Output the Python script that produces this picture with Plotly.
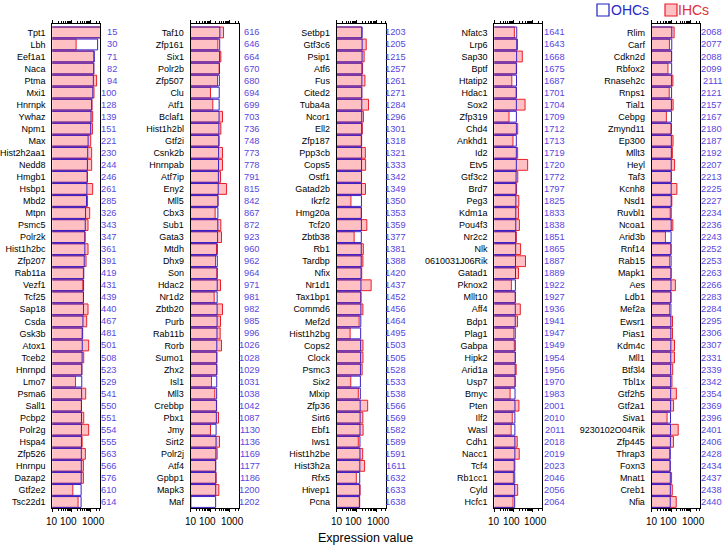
import math
import plotly.graph_objects as go

genes1 = ["Tpt1","Lbh","Eef1a1","Naca","Ptma","Mxi1","Hnrnpk","Ywhaz","Npm1","Max","Hist2h2aa1","Nedd8","Hmgb1","Hsbp1","Mbd2","Mtpn","Psmc5","Polr2k","Hist1h2bc","Zfp207","Rab11a","Vezf1","Tcf25","Sap18","Csda","Gsk3b","Atox1","Tceb2","Hnrnpd","Lmo7","Psma6","Sall1","Pcbp2","Polr2g","Hspa4","Zfp526","Hnrnpu","Dazap2","Gtf2e2","Tsc22d1"]
ranks1 = [15,30,71,82,94,100,128,139,151,221,230,244,246,261,285,326,343,347,361,391,419,431,439,440,467,481,501,508,523,529,541,550,551,554,555,563,566,576,610,614]
ohc1 = [3400,2320,1560,1480,1390,1300,1135,1050,1010,740,705,680,675,640,610,545,525,515,500,465,440,430,425,424,398,383,366,360,350,346,340,335,334,333,332,328,326,322,320,318]
ihc1 = [3400,175,1450,1440,2060,1500,1180,1280,1240,1010,1135,1135,660,1280,690,895,733,490,733,578,420,390,420,733,625,360,795,437,345,162,555,330,437,795,360,533,420,420,118,222]

genes2 = ["Taf10","Zfp161","Six1","Polr2b","Zfp507","Clu","Atf1","Bclaf1","Hist1h2bl","Gtf2i","Csnk2b","Hnrnpab","Atf7ip","Eny2","Mll5","Cbx3","Sub1","Gata3","Mtdh","Dhx9","Son","Hdac2","Nr1d2","Zbtb20","Purb","Rab11b","Rorb","Sumo1","Zhx2","Isl1","Mll3","Crebbp","Pbx1","Jmy","Sirt2","Polr2j","Atf4","Gpbp1","Mapk3","Maf"]
ranks2 = [616,646,664,670,680,694,699,703,736,748,773,778,791,815,842,867,872,923,960,962,964,971,981,982,985,996,1026,1028,1029,1031,1038,1042,1087,1130,1136,1169,1177,1186,1200,1202]
ohc2 = [318,312,308,305,300,296,293,290,283,280,274,272,268,262,257,252,250,243,236,235,234,233,231,230,229,227,222,221,221,220,218,217,210,204,203,199,197,196,194,193]
ihc2 = [493,251,358,294,241,105,138,437,358,290,437,437,344,705,251,182,358,388,214,190,222,344,162,437,344,331,388,222,222,118,175,212,271,105,306,231,190,205,282,10.3]

genes3 = ["Setbp1","Gtf3c6","Psip1","Atf6","Fus","Cited2","Tuba4a","Ncor1","Ell2","Zfp187","Ppp3cb","Cops5","Ostf1","Gatad2b","Ikzf2","Hmg20a","Tcf20","Zbtb38","Rb1","Tardbp","Nfix","Nr1d1","Tax1bp1","Commd6","Mef2d","Hist1h2bg","Cops2","Clock","Psmc3","Six2","Mlxip","Zfp36","Sirt6","Ebf1","Iws1","Hist1h2be","Hist3h2a","Rfx5","Hivep1","Pcna"]
ranks3 = [1203,1205,1215,1257,1261,1271,1284,1296,1301,1318,1321,1333,1342,1349,1350,1353,1359,1377,1381,1388,1420,1437,1452,1456,1464,1495,1503,1505,1528,1533,1538,1566,1569,1582,1589,1591,1611,1632,1633,1638]
ohc3 = [197,196,195,191,190,189,188,187,186,185,184,183,182,181,181,180,180,178,177,176,173,171,170,169,168,165,164,164,161,160,159,156,155,153,152,152,150,148,148,147]
ihc3 = [182,316,248,206,272,187,415,228,200,178,285,295,183,291,53,178,340,77,225,215,187,563,168,215,138,48,216,216,196,52,125,375,213,219,125,209,262,99,154,141]

genes4 = ["Nfatc3","Lrp6","Sap30","Bptf","Htatip2","Hdac1","Sox2","Zfp319","Chd4","Ankhd1","Id2","Etv5","Gtf3c2","Brd7","Peg3","Kdm1a","Pou4f3","Nr2c2","Nlk","0610031J06Rik","Gatad1","Pknox2","Mllt10","Aff4","Bdp1","Plag1","Gabpa","Hipk2","Arid1a","Usp7","Bmyc","Pten","Ilf2","Wasl","Cdh1","Nacc1","Tcf4","Rb1cc1","Cyld","Hcfc1"]
ranks4 = [1641,1643,1668,1675,1687,1701,1704,1709,1712,1713,1719,1720,1772,1797,1825,1833,1838,1851,1865,1887,1889,1922,1927,1936,1941,1947,1949,1954,1956,1970,1983,2001,2010,2011,2018,2019,2023,2046,2056,2064]
ohc4 = [146,146,144,143,142,141,140,140,140,139,139,139,135,133,131,130,130,129,128,126,126,124,123,123,122,122,122,121,121,120,119,118,117,117,117,117,116,115,114,114]
ihc4 = [110,160,283,138,81,136,394,58,164,93,163,537,165,143,187,179,201,139,232,415,180,77,123,223,161,104,109,126,136,120,66,190,85,75,154,196,107,98,163,94]

genes5 = ["Rlim","Carf","Cdkn2d","Rbfox2","Rnaseh2c","Rnps1","Tial1","Cebpg","Zmynd11","Ep300","Mllt3","Heyl","Taf3","Kcnh8","Nsd1","Ruvbl1","Ncoa1","Arid3b","Rnf14","Rab15","Mapk1","Aes","Ldb1","Mef2a","Ewsr1","Pias1","Kdm4c","Mll1","Btf3l4","Tbl1x","Gtf2h5","Gtf2a1","Siva1","9230102O04Rik","Zfp445","Thrap3","Foxn3","Mnat1","Creb1","Nfia"]
ranks5 = [2068,2077,2088,2099,2111,2121,2157,2167,2180,2187,2192,2207,2213,2225,2227,2234,2236,2243,2252,2253,2263,2266,2283,2284,2295,2306,2307,2331,2339,2342,2354,2369,2396,2401,2406,2428,2434,2437,2438,2440]
ohc5 = [108,108,107,107,106,106,104,104,103,103,103,102,102,101,101,101,101,100,100,100,99,99,98,98,97,97,97,96,95,95,95,94,93,93,92,91,91,91,91,90]
ihc5 = [143,82,105,69,124,80,127,57,99,126,116,152,102,199,109,90,123,51,97,85,100,166,98,84,118,118,150,149,121,111,187,134,62,232,132,84,87,106,115,184]

tick_vals = [10, 100, 1000]
tick_text = ["10", "100", "1000"]
legend_names = ["OHCs", "IHCs"]
x_title = "Expression value"

W, H = 724, 548
FONT = "Liberation Sans, Arial, sans-serif"
BLUE = "#3A22C8"
RANKC = "#5A46E0"
RED = "#E8202A"
PINK = "#FFC0C4"

panels = [
    (genes1, ranks1, ohc1, ihc1),
    (genes2, ranks2, ohc2, ihc2),
    (genes3, ranks3, ohc3, ihc3),
    (genes4, ranks4, ohc4, ihc4),
    (genes5, ranks5, ohc5, ihc5),
]
xpix = [(52.3, 100), (190.7, 239), (336.7, 385.7), (494.3, 542.3), (651.7, 700)]
rank_right = [119, 261.5, 407.7, 566.7, 723.5]
label_shift = [0, -2.5, 2.5]
ytop, ybot = 24, 508

fig = go.Figure()
layout = dict(
    width=W, height=H, margin=dict(l=0, r=0, t=0, b=0),
    template="none", paper_bgcolor="white", plot_bgcolor="white",
    barmode="overlay", showlegend=False,
    font=dict(family=FONT, color="black", size=9),
)
annotations = []
for i, (g, rk, o, ih) in enumerate(panels):
    n = "" if i == 0 else str(i + 1)
    xa, ya = "x" + n, "y" + n
    fig.add_trace(go.Bar(
        x=ih, y=g, orientation="h", xaxis=xa, yaxis=ya, width=0.9,
        marker=dict(color=PINK, line=dict(color=RED, width=1)), name=legend_names[1]))
    fig.add_trace(go.Bar(
        x=o, y=g, orientation="h", xaxis=xa, yaxis=ya, width=0.9,
        marker=dict(color="rgba(0,0,0,0)", line=dict(color=BLUE, width=1)), name=legend_names[0]))
    l, r = xpix[i]
    layout["xaxis" + n] = dict(
        type="log", range=[1, 3.49], domain=[l / W, r / W], anchor=ya,
        showline=True, linecolor="black", linewidth=1, mirror="ticks",
        ticks="outside", ticklen=3, tickcolor="black",
        tickvals=tick_vals, showticklabels=False, showgrid=False, zeroline=False,
        minor=dict(ticks="outside", ticklen=2, tickcolor="black", dtick="D1", showgrid=False),
        automargin=False, fixedrange=True,
    )
    layout["yaxis" + n] = dict(
        type="category", categoryorder="array", categoryarray=g,
        range=[39.5, -0.7], domain=[1 - ybot / H, 1 - ytop / H], anchor=xa,
        showline=True, linecolor="black", linewidth=1, mirror=True,
        ticks="", showgrid=False, zeroline=False, ticklabelstandoff=4,
        tickfont=dict(family=FONT, size=9, color="black"),
        automargin=False, fixedrange=True,
    )
    for tv, tt, sh in zip(tick_vals, tick_text, label_shift):
        annotations.append(dict(
            x=math.log10(tv), xref=xa, y=1 - 521.5 / H, yref="paper", xshift=sh,
            text=tt, showarrow=False, xanchor="center", yanchor="middle",
            font=dict(family=FONT, size=10, color="black")))
    for gene, rv in zip(g, rk):
        annotations.append(dict(
            x=rank_right[i] / W, xref="paper", y=gene, yref=ya,
            text=str(rv), showarrow=False, xanchor="right", yanchor="middle",
            font=dict(family=FONT, size=9.3, color=RANKC)))

annotations.append(dict(x=365 / W, y=1 - 538 / H, xref="paper", yref="paper",
                        text=x_title, showarrow=False, xanchor="center", yanchor="middle",
                        font=dict(family=FONT, size=12.5, color="black")))
# legend
annotations.append(dict(x=609 / W, y=1 - 10 / H, xref="paper", yref="paper", text=legend_names[0],
                        showarrow=False, xanchor="left", yanchor="middle",
                        font=dict(family=FONT, size=14, color="#2828C8")))
annotations.append(dict(x=676 / W, y=1 - 10 / H, xref="paper", yref="paper", text=legend_names[1],
                        showarrow=False, xanchor="left", yanchor="middle",
                        font=dict(family=FONT, size=14, color="#E0303A")))
shapes = [
    dict(type="rect", xref="paper", yref="paper", x0=597 / W, x1=609 / W, y0=1 - 16 / H, y1=1 - 4 / H,
         line=dict(color="#2020C0", width=1.2), fillcolor="white"),
    dict(type="rect", xref="paper", yref="paper", x0=665 / W, x1=677 / W, y0=1 - 16 / H, y1=1 - 4 / H,
         line=dict(color=RED, width=1.2), fillcolor=PINK),
]
layout["annotations"] = annotations
layout["shapes"] = shapes
fig.update_layout(**layout)
fig.write_html("out.html", config={"displayModeBar": False, "staticPlot": True},
               post_script="document.body.style.margin='0px';")
